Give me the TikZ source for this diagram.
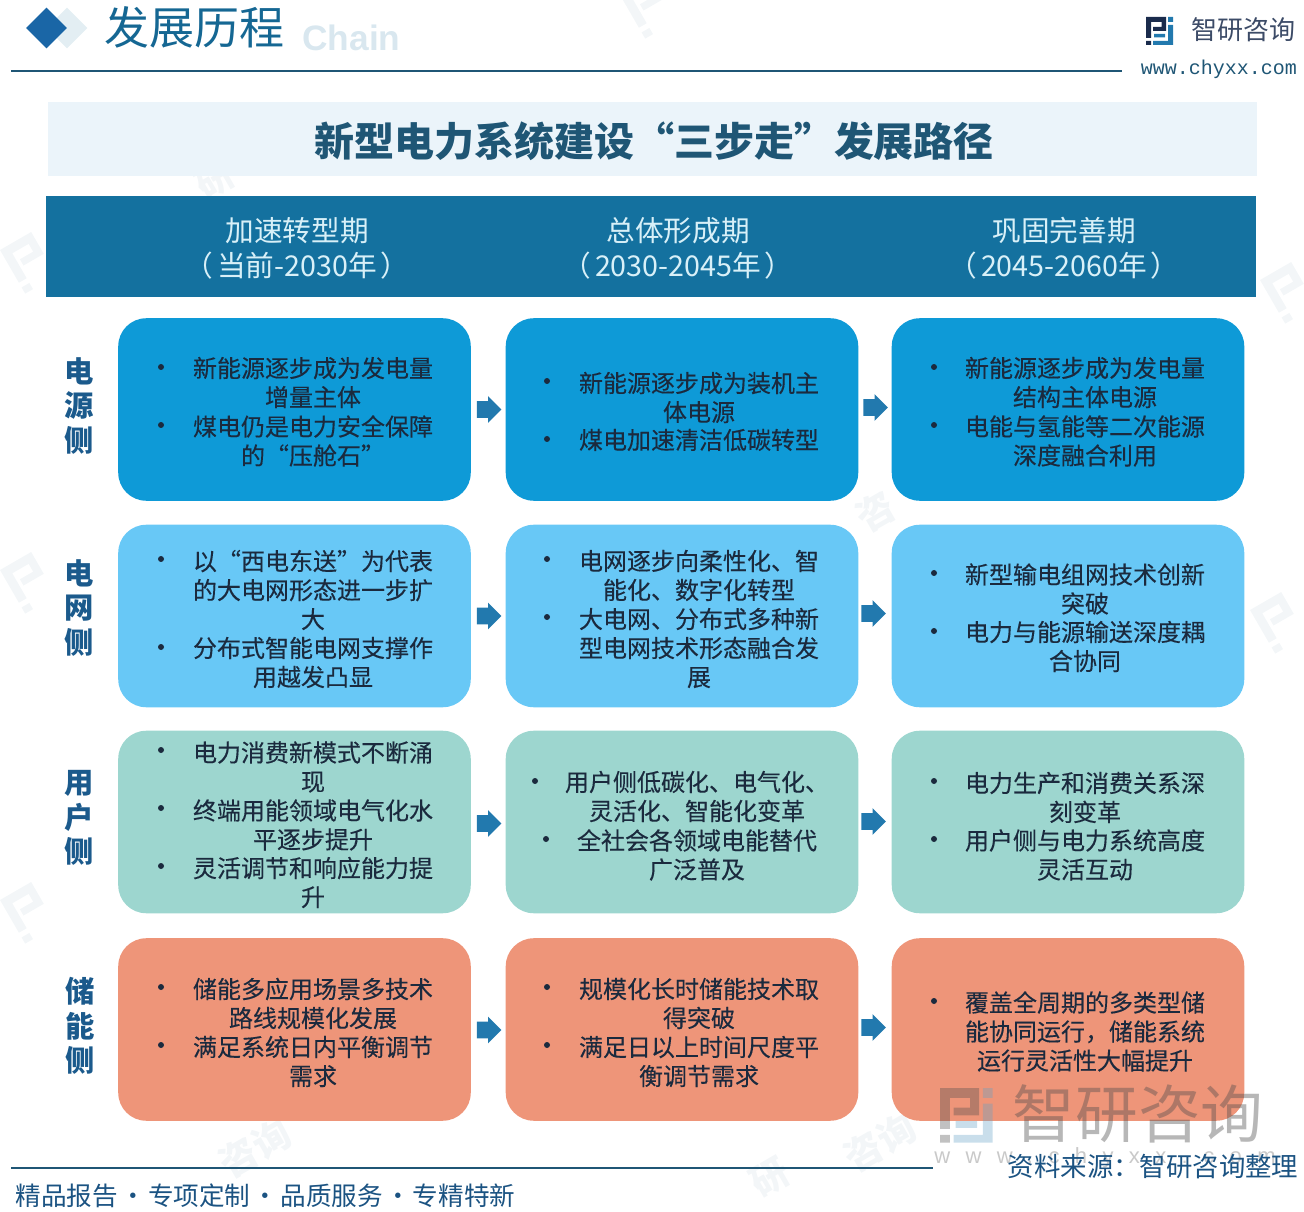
\documentclass[tikz,border=0pt]{standalone}
\usepackage{fontspec}
\setmainfont{Noto Sans CJK SC}
\newfontfamily\cellfont[FakeBold=0.25]{Noto Sans CJK SC}
\newfontfamily\wmfont[LetterSpace=70]{Liberation Sans}
\newfontfamily\urlfont{Liberation Mono}
\usetikzlibrary{shapes.arrows,shapes.geometric}
\definecolor{navy}{HTML}{1A2B4C}
\definecolor{band}{HTML}{EBF4FA}
\definecolor{hdr}{HTML}{14719F}
\definecolor{hdrtxt}{HTML}{D8F0F8}
\definecolor{rowa}{HTML}{0E9AD7}
\definecolor{rowb}{HTML}{68C8F6}
\definecolor{rowc}{HTML}{9DD6CF}
\definecolor{rowd}{HTML}{EE9579}
\definecolor{ink}{HTML}{1B2A3E}
\definecolor{lab}{HTML}{1B5A8C}
\definecolor{arrowc}{HTML}{2279AE}
\definecolor{rulec}{HTML}{1F5675}
\definecolor{faint}{HTML}{F3F6F8}
\definecolor{dmd}{HTML}{1A66A6}
\tikzset{
  cellbox/.style={draw=none,rounded corners=21pt,minimum width=264.4pt,minimum height=136.9pt,inner sep=0pt},
  celltxt/.style={text=ink,align=center,inner sep=0pt,font=\fontsize{18}{21.75}\selectfont\cellfont},
  dot/.style={circle,fill=ink,draw=none,minimum size=4.5pt,inner sep=0pt},
  flow/.style={single arrow,fill=arrowc,draw=none,inner xsep=0pt,inner ysep=6pt,minimum height=18.5pt,minimum width=19.5pt,single arrow head extend=3.75pt,single arrow head indent=0pt},
  rowlab/.style={text=lab,align=center,inner sep=0pt,font=\fontsize{22}{26}\selectfont\bfseries},
  hdrlab/.style={text=hdrtxt,align=center,inner sep=0pt,font=\fontsize{21.5}{26.25}\selectfont},
  ghost/.style={text=faint,inner sep=0pt,rotate=30,font=\fontsize{28}{32}\selectfont\bfseries},
  logo/.pic={
    \fill[#1] (0,0) rectangle (20,5) (15.5,0) rectangle (20,14) (7,10) rectangle (20,14) (0,0) rectangle (5,21) (0,24) rectangle (5,28);
  },
  logob/.pic={
    \fill[#1] (22,0) rectangle (27,5) (22,8) rectangle (27,28) (7,24) rectangle (27,28) (8,17) rectangle (19,20.5);
  }
}
\begin{document}
\begin{tikzpicture}[x=0.75pt,y=-0.75pt]
\useasboundingbox (0,0) rectangle (1304,1212);
% faint watermarks
\node[ghost] (wa) at (255,1148) {咨询};
\node[ghost] (wb) at (880,1142) {咨询};
\node[ghost] (wc) at (875,512) {咨};
\node[ghost] (wd) at (215,180) {研};
\node[ghost] (we) at (770,1178) {研};
\pic at (0,250) [scale=1.8,rotate=30] {logo=faint};
\pic at (0,570) [scale=1.8,rotate=30] {logo=faint};
\pic at (0,900) [scale=1.8,rotate=30] {logo=faint};
\pic at (1250,610) [scale=1.8,rotate=30] {logo=faint};
\pic at (1260,280) [scale=1.8,rotate=30] {logo=faint};
\pic at (620,-5) [scale=1.8,rotate=30] {logo=faint};
% top banner
\node[diamond,fill=hdr!12!white,draw=none,minimum width=30.75pt,minimum height=30.75pt,inner sep=0pt,aspect=1] (dl) at (67,28) {};
\node[diamond,fill=dmd,draw=none,minimum width=30.75pt,minimum height=30.75pt,inner sep=0pt,aspect=1] (dd) at (46.5,28) {};
\node[inner sep=0pt,text=hdr!30!white,font=\fontsize{26.5}{30}\selectfont\bfseries,text opacity=.55] (chain) at (351.5,38) {\fontspec{Liberation Sans}Chain};
\node[inner sep=0pt,text=hdr!85!navy,font=\fontsize{33.75}{38}\selectfont] (maint) at (194,27) {发展历程};
\coordinate (tl) at (11,71);
\coordinate (tr) at (1122,71);
\draw[rulec,line width=1.4pt] (tl) -- (tr);
\pic at (1146,17) [scale=1] {logo=navy};
\pic at (1146,17) [scale=1] {logob=arrowc};
\node[inner sep=0pt,text=navy!85,font=\fontsize{19.5}{22}\selectfont] (brand) at (1243,30) {智研咨询};
\node[inner sep=0pt,text=rulec,font=\fontsize{15}{18}\selectfont\urlfont] (url) at (1219,69) {www.chyxx.com};
% title band and header
\node[fill=band,draw=none,inner sep=0pt,minimum width=907pt,minimum height=55.5pt] (band) at (652.5,139) {};
\node[inner sep=0pt,text=rulec,font=\fontsize{30}{34}\selectfont\bfseries] (title) at (654,141) {新型电力系统建设“三步走”发展路径};
\node[fill=hdr,draw=none,inner sep=0pt,minimum width=907.5pt,minimum height=75.75pt] (hdr) at (651,246.5) {};
\node[hdrlab] (h1) at (297,248) {加速转型期\\（\hspace{3pt}当前-2030年\hspace{3pt}）};
\node[hdrlab] (h2) at (678,248) {总体形成期\\（\hspace{3pt}2030-2045年\hspace{3pt}）};
\node[hdrlab] (h3) at (1064,248) {巩固完善期\\（\hspace{3pt}2045-2060年\hspace{3pt}）};
% row labels
\node[rowlab] (ra) at (79,406) {电\\源\\侧};
\node[rowlab] (rb) at (79,608) {电\\网\\侧};
\node[rowlab] (rc) at (79,818) {用\\户\\侧};
\node[rowlab] (rd) at (80,1026) {储\\能\\侧};
% boxes
\node[cellbox,fill=rowa] (a1) at (294.5,409.5) {};
\node[cellbox,fill=rowa] (a2) at (682,409.5) {};
\node[cellbox,fill=rowa] (a3) at (1068,409.5) {};
\node[cellbox,fill=rowb] (b1) at (294.5,616) {};
\node[cellbox,fill=rowb] (b2) at (682,616) {};
\node[cellbox,fill=rowb] (b3) at (1068,616) {};
\node[cellbox,fill=rowc] (c1) at (294.5,822) {};
\node[cellbox,fill=rowc] (c2) at (682,822) {};
\node[cellbox,fill=rowc] (c3) at (1068,822) {};
\node[cellbox,fill=rowd] (d1) at (294.5,1029.5) {};
\node[cellbox,fill=rowd] (d2) at (682,1029.5) {};
\node[cellbox,fill=rowd] (d3) at (1068,1029.5) {};
% arrows
\node[flow] (fa1) at (485,409.5) {};
\node[flow] (fa2) at (871.5,407.5) {};
\node[flow] (fb1) at (485,616) {};
\node[flow] (fb2) at (869.5,613.5) {};
\node[flow] (fc1) at (485,823.5) {};
\node[flow] (fc2) at (869.5,821.5) {};
\node[flow] (fd1) at (485,1030) {};
\node[flow] (fd2) at (869.5,1027.5) {};
% row A
\node[dot] (pa11) at (161,367) {};
\node[celltxt] (ta11) at (313,382.5) {新能源逐步成为发电量\\增量主体};
\node[dot] (pa12) at (161,425) {};
\node[celltxt] (ta12) at (313,441) {煤电仍是电力安全保障\\的“压舱石”};
\node[dot] (pa21) at (547,381) {};
\node[celltxt] (ta21) at (699,397.5) {新能源逐步成为装机主\\体电源};
\node[dot] (pa22) at (547,439) {};
\node[celltxt] (ta22) at (699,440) {煤电加速清洁低碳转型};
\node[dot] (pa31) at (934,367) {};
\node[celltxt] (ta31) at (1085,382.5) {新能源逐步成为发电量\\结构主体电源};
\node[dot] (pa32) at (934,425) {};
\node[celltxt] (ta32) at (1085,441) {电能与氢能等二次能源\\深度融合利用};
% row B
\node[dot] (pb11) at (161,559) {};
\node[celltxt] (tb11) at (313,590) {以“西电东送”为代表\\的大电网形态进一步扩\\大};
\node[dot] (pb12) at (161,647) {};
\node[celltxt] (tb12) at (313,662.5) {分布式智能电网支撑作\\用越发凸显};
\node[dot] (pb21) at (547,559) {};
\node[celltxt] (tb21) at (699,575.5) {电网逐步向柔性化、智\\能化、数字化转型};
\node[dot] (pb22) at (547,617) {};
\node[celltxt] (tb22) at (699,648) {大电网、分布式多种新\\型电网技术形态融合发\\展};
\node[dot] (pb31) at (934,573) {};
\node[celltxt] (tb31) at (1085,589) {新型输电组网技术创新\\突破};
\node[dot] (pb32) at (934,631) {};
\node[celltxt] (tb32) at (1085,646.5) {电力与能源输送深度耦\\合协同};
% row C
\node[dot] (pc11) at (161,750) {};
\node[celltxt] (tc11) at (313,767) {电力消费新模式不断涌\\现};
\node[dot] (pc12) at (161,808) {};
\node[celltxt] (tc12) at (313,825) {终端用能领域电气化水\\平逐步提升};
\node[dot] (pc13) at (161,866) {};
\node[celltxt] (tc13) at (313,882.5) {灵活调节和响应能力提\\升};
\node[dot] (pc21) at (535,781) {};
\node[celltxt] (tc21) at (697,796.5) {用户侧低碳化、电气化、\\灵活化、智能化变革};
\node[dot] (pc22) at (546,839) {};
\node[celltxt] (tc22) at (697,855) {全社会各领域电能替代\\广泛普及};
\node[dot] (pc31) at (934,781) {};
\node[celltxt] (tc31) at (1085,797.5) {电力生产和消费关系深\\刻变革};
\node[dot] (pc32) at (934,839) {};
\node[celltxt] (tc32) at (1085,855) {用户侧与电力系统高度\\灵活互动};
% row D
\node[dot] (pd11) at (161,987) {};
\node[celltxt] (td11) at (313,1003.5) {储能多应用场景多技术\\路线规模化发展};
\node[dot] (pd12) at (161,1045) {};
\node[celltxt] (td12) at (313,1061.5) {满足系统日内平衡调节\\需求};
\node[dot] (pd21) at (547,987) {};
\node[celltxt] (td21) at (699,1003.5) {规模化长时储能技术取\\得突破};
\node[dot] (pd22) at (547,1045) {};
\node[celltxt] (td22) at (699,1061.5) {满足日以上时间尺度平\\衡调节需求};
\node[dot] (pd31) at (934,1001) {};
\node[celltxt] (td31) at (1085,1031.5) {覆盖全周期的多类型储\\能协同运行，储能系统\\运行灵活性大幅提升};
% bottom watermark
\begin{scope}[opacity=.35]
\pic at (940,1088) [scale=1.95] {logo=black!70};
\pic at (940,1088) [scale=1.95] {logob=arrowc!70};
\end{scope}
\node[inner sep=0pt,text=black!70,text opacity=.4,font=\fontsize{47}{52}\selectfont] (wmark) at (1138,1114) {智研咨询};
\node[inner sep=0pt,text=black!70,text opacity=.3,font=\fontsize{16.5}{20}\selectfont\wmfont] (wmurl) at (1105,1158) {www.chyxx.com};
% footer
\coordinate (bl) at (11,1168);
\coordinate (br) at (933,1168);
\draw[rulec,line width=1.2pt] (bl) -- (br);
\node[inner sep=0pt,text=lab!85!navy,font=\fontsize{19.8}{22}\selectfont] (src) at (1153,1167) {资料来源：智研咨询整理};
\node[inner sep=0pt,text=lab!85!navy,font=\fontsize{19.2}{22}\selectfont] (slogan) at (265.5,1196) {精品报告\makebox[22.5pt]{·}专项定制\makebox[22.5pt]{·}品质服务\makebox[22.5pt]{·}专精特新};
\end{tikzpicture}
\end{document}
